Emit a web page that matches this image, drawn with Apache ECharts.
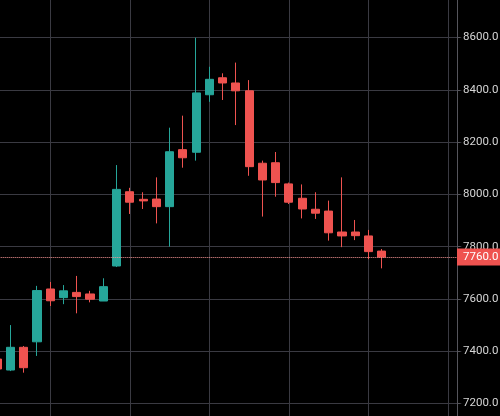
<!DOCTYPE html>
<html>
<head>
<meta charset="utf-8">
<script src="https://cdn.jsdelivr.net/npm/echarts@6/dist/echarts.min.js"></script>
<style>
  html, body { margin: 0; padding: 0; background: #000; }
  #main { width: 500px; height: 416px; }
</style>
</head>
<body>
<div id="main"></div>
<script>
// candle values (oldest first)
const openV  = [7370, 7328, 7415, 7436, 7638, 7605, 7625, 7619, 7592, 7726, 8010, 7981, 7982, 7953, 8171, 8161, 8381, 8446, 8426, 8396, 8119, 8121, 8040, 7985, 7943, 7936, 7856, 7856, 7841, 7783];
const closeV = [7332, 7415, 7337, 7632, 7593, 7631, 7609, 7599, 7647, 8019, 7970, 7975, 7953, 8163, 8140, 8388, 8440, 8426, 8396, 8106, 8055, 8045, 7970, 7944, 7928, 7853, 7841, 7842, 7781, 7760];
const lowV   = [7318, 7324, 7318, 7382, 7573, 7580, 7545, 7587, 7592, 7722, 7925, 7944, 7889, 7800, 8102, 8129, 8354, 8361, 8265, 8071, 7915, 7991, 7963, 7908, 7906, 7823, 7798, 7825, 7752, 7717];
const highV  = [7382, 7500, 7420, 7650, 7665, 7653, 7688, 7631, 7679, 8112, 8025, 8008, 8065, 8255, 8301, 8599, 8488, 8463, 8504, 8437, 8129, 8162, 8045, 8038, 8008, 7976, 8065, 7902, 7864, 7791];
const lastPrice = 7760;
const yTicks = [7200, 7400, 7600, 7800, 8000, 8200, 8400, 8600];

// empty slots before and after the candles (chart scrolled with space on the right)
const padBefore = 2;
const padAfter = 6;

const upColor = "#26a69a";
const downColor = "#ef5350";
const gridColor = "#3a3a42";
const fontColor = "#d6d6d6";

let candles = [];
for (let i = 0; i < padBefore; i++) candles.push("-");
openV.forEach((o, i) => {
  candles.push([o, closeV[i], lowV[i], highV[i]]);
});
for (let i = 0; i < padAfter; i++) candles.push("-");
const categories = candles.map((_, i) => String(i - padBefore));

const myChart = echarts.init(document.getElementById("main"));
let option = {
  backgroundColor: "#000",
  animation: false,
  grid: {
    outerBoundsMode: "none",
    containLabel: false,
    left: -29.3,
    right: 38.7,
    top: -14.8,
    bottom: -39.8,
  },
  xAxis: {
    type: "category",
    data: categories,
    boundaryGap: false,
    axisLine: { show: false },
    axisTick: { show: false },
    axisLabel: { show: false },
    splitLine: {
      show: true,
      interval: 5,
      lineStyle: { color: gridColor, width: 1 },
    },
  },
  yAxis: {
    type: "value",
    position: "right",
    offset: -4.3,
    min: 7000,
    max: 8800,
    interval: 200,
    scale: true,
    axisLine: { show: true, lineStyle: { color: "#55555c" } },
    axisTick: { show: true, length: 3, lineStyle: { color: "#55555c" } },
    axisLabel: {
      margin: 6,
      color: fontColor,
      fontFamily: "Roboto",
      fontSize: 11.5,
      formatter: (v) => (yTicks.includes(v) ? v.toFixed(1) : ""),
    },
    splitLine: { show: true, lineStyle: { color: gridColor, width: 1 } },
  },
  series: [
    {
      type: "candlestick",
      data: candles,
      barWidth: 8.6,
      itemStyle: {
        color: upColor,
        color0: downColor,
        borderColor: upColor,
        borderColor0: downColor,
        borderWidth: 1,
      },
      markLine: {
        silent: true,
        symbol: "none",
        data: [{ yAxis: lastPrice }],
        lineStyle: { color: "#ff9a9a", type: "dotted", width: 1 },
        label: {
          position: "end",
          distance: -4.3,
          formatter: (p) => p.value.toFixed(1),
          color: "#fff",
          fontFamily: "Roboto",
          fontSize: 11.5,
          backgroundColor: downColor,
          padding: [3, 8, 2, 6],
        },
      },
    },
  ],
};
myChart.setOption(option);
</script>
</body>
</html>
